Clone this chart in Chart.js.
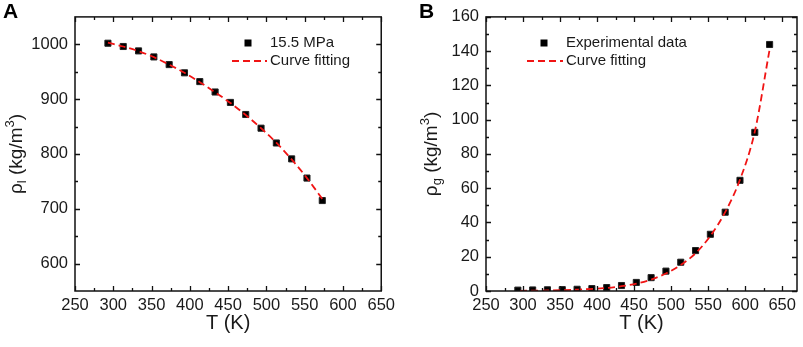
<!DOCTYPE html>
<html>
<head>
<meta charset="utf-8">
<script src="https://cdn.jsdelivr.net/npm/chart.js@4.4.0/dist/chart.umd.min.js"></script>
<style>
html, body { margin: 0; padding: 0; background: #fff; }
#wrap { position: relative; width: 803px; height: 347px; }
.panel { position: absolute; top: 0; }
.tag { position: absolute; top: 0; font: bold 21px "Liberation Sans", Arial, sans-serif; line-height: 21px; color: #000; }
</style>
</head>
<body>
<div id="wrap">
    <canvas id="chartA" class="panel" style="left:0" width="400" height="347"></canvas>
    <canvas id="chartB" class="panel" style="left:400px" width="403" height="347"></canvas>
    <div class="tag" style="left:3px">A</div>
    <div class="tag" style="left:419px">B</div>
</div>
<script>
// panel A: liquid density at 15.5 MPa
var tempA = [293, 313, 333, 353, 373, 393, 413, 433, 453, 473, 493, 513, 533, 553, 573];
var rhoLiquid = [1002, 996, 988, 977, 963, 948, 932, 913, 894, 872, 847, 820, 791, 756, 715];
var fitTempA = [293, 313, 333, 353, 373, 393, 413, 433, 453, 473, 493, 513, 533, 553, 573];
var fitRhoLiquid = [1003, 996, 987.5, 976.5, 963, 948, 931, 912.5, 893, 871, 847, 820.5, 790, 756, 718];

// panel B: vapour density
var tempB = [293, 313, 333, 353, 373, 393, 413, 433, 453, 473, 493, 513, 533, 553, 573, 593, 613, 633];
var rhoGas = [0.5, 0.6, 0.7, 0.8, 1.0, 1.4, 2.0, 3.2, 5.0, 7.8, 11.6, 16.8, 23.6, 33.1, 46.0, 64.6, 92.6, 143.9];
var fitTempB = [296, 333, 373, 413, 433, 453, 473, 493, 513, 533, 553, 573, 593, 613, 633];
var fitRhoGas = [0.1, 0.3, 0.8, 1.8, 2.8, 4.3, 6.7, 10.2, 15.2, 22, 32.2, 46, 65, 93, 141];

var tempTicks = [250, 300, 350, 400, 450, 500, 550, 600, 650];
var rhoLiquidTicks = [600, 700, 800, 900, 1000];
var rhoGasTicks = [0, 20, 40, 60, 80, 100, 120, 140, 160];

var FONT = '"Liberation Sans", Arial, sans-serif';
var INK = '#1a1a1a';
var RED = '#f01414';

function toXY(xs, ys) {
    return xs.map(function (x, i) { return {x: x, y: ys[i]}; });
}

// frame with inward major/minor ticks on all four sides
function frameTicks(xMinor, yMinor) {
    return {
        id: 'frameTicks',
        afterDraw: function (chart) {
            var ctx = chart.ctx, a = chart.chartArea;
            var sx = chart.scales.x, sy = chart.scales.y;
            ctx.save();
            ctx.strokeStyle = '#111';
            ctx.lineWidth = 1.3;
            ctx.beginPath();
            function tickX(v, len) {
                var p = Math.round(sx.getPixelForValue(v)) + 0.5;
                ctx.moveTo(p, a.bottom); ctx.lineTo(p, a.bottom - len);
                ctx.moveTo(p, a.top); ctx.lineTo(p, a.top + len);
            }
            function tickY(v, len) {
                var p = Math.round(sy.getPixelForValue(v)) + 0.5;
                ctx.moveTo(a.left, p); ctx.lineTo(a.left + len, p);
                ctx.moveTo(a.right, p); ctx.lineTo(a.right - len, p);
            }
            sx.ticks.forEach(function (t) { tickX(t.value, 5); });
            sy.ticks.forEach(function (t) { tickY(t.value, 5); });
            var v;
            for (v = sx.min + xMinor; v < sx.max; v += xMinor) {
                if (v % (2 * xMinor) !== 0) tickX(v, 3);
            }
            for (v = sy.min + yMinor; v < sy.max; v += yMinor) {
                if (v % (2 * yMinor) !== 0) tickY(v, 3);
            }
            ctx.stroke();
            ctx.lineWidth = 1.5;
            ctx.strokeRect(a.left, a.top, a.right - a.left, a.bottom - a.top);
            ctx.restore();
        }
    };
}

// axis titles, y title carries a subscript and a superscript
function axisTitles(sub, yTitleX) {
    return {
        id: 'axisTitles',
        afterDraw: function (chart) {
            var ctx = chart.ctx, a = chart.chartArea;
            ctx.save();
            ctx.fillStyle = INK;
            ctx.textBaseline = 'middle';
            ctx.textAlign = 'center';
            ctx.font = '20px ' + FONT;
            ctx.fillText('T (K)', (a.left + a.right) / 2, 323);

            var parts = [
                {t: '\u03c1', size: 19, dy: 0},
                {t: sub, size: 13, dy: 5},
                {t: ' (kg/m', size: 19, dy: 0},
                {t: '3', size: 13, dy: -7},
                {t: ')', size: 19, dy: 0}
            ];
            var total = 0;
            parts.forEach(function (p) {
                ctx.font = p.size + 'px ' + FONT;
                p.w = ctx.measureText(p.t).width;
                total += p.w;
            });
            ctx.translate(yTitleX, (a.top + a.bottom) / 2);
            ctx.rotate(-Math.PI / 2);
            ctx.textAlign = 'left';
            var x = -total / 2;
            parts.forEach(function (p) {
                ctx.font = p.size + 'px ' + FONT;
                ctx.fillText(p.t, x, p.dy);
                x += p.w;
            });
            ctx.restore();
        }
    };
}

// legend drawn inside the plot, taken from dataset labels and styles
function innerLegend(pos) {
    return {
        id: 'innerLegend',
        afterDraw: function (chart) {
            var ctx = chart.ctx;
            var pts = chart.data.datasets[1], fit = chart.data.datasets[0];
            ctx.save();
            ctx.fillStyle = '#000';
            ctx.fillRect(pos.markX - 3.5, pos.y1 - 3.5, 7, 7);
            ctx.strokeStyle = RED;
            ctx.lineWidth = 1.8;
            ctx.setLineDash(fit.borderDash);
            ctx.beginPath();
            ctx.moveTo(pos.lineX1, pos.y2);
            ctx.lineTo(pos.lineX2, pos.y2);
            ctx.stroke();
            ctx.setLineDash([]);
            ctx.fillStyle = INK;
            ctx.font = '15px ' + FONT;
            ctx.textBaseline = 'middle';
            ctx.fillText(pts.label, pos.textX, pos.y1);
            ctx.fillText(fit.label, pos.textX, pos.y2);
            ctx.restore();
        }
    };
}

function plainNumber(v) {
    return String(v);
}

function buildChart(id, cfg) {
    var ctx = document.getElementById(id).getContext('2d');
    return new Chart(ctx, {
        type: 'scatter',
        data: {
            datasets: [{
                label: 'Curve fitting',
                data: toXY(cfg.fitX, cfg.fitY),
                showLine: true,
                pointRadius: 0,
                borderColor: RED,
                borderWidth: 1.8,
                borderDash: [7, 4],
                cubicInterpolationMode: 'monotone',
                order: 0
            }, {
                label: cfg.pointLabel,
                data: toXY(cfg.ptX, cfg.ptY),
                pointStyle: 'rect',
                pointRadius: 4.3,
                backgroundColor: '#000',
                borderColor: '#222',
                borderWidth: 1,
                clip: cfg.clip,
                order: 1
            }]
        },
        options: {
            responsive: false,
            animation: false,
            events: [],
            layout: {padding: {top: 9, right: cfg.padRight, left: 0, bottom: 0}},
            plugins: {legend: {display: false}, tooltip: {enabled: false}},
            scales: {
                x: {
                    type: 'linear',
                    min: 250,
                    max: cfg.xMax,
                    afterBuildTicks: function (s) { s.ticks = tempTicks.map(function (v) { return {value: v}; }); },
                    afterFit: function (s) { s.height = 56; },
                    grid: {display: false, drawTicks: false},
                    border: {display: false},
                    ticks: {color: INK, font: {family: FONT, size: 16.5}, padding: 5, maxRotation: 0, autoSkip: false, callback: plainNumber}
                },
                y: {
                    type: 'linear',
                    min: cfg.yMin,
                    max: cfg.yMax,
                    afterBuildTicks: function (s) { s.ticks = cfg.yTicks.map(function (v) { return {value: v}; }); },
                    afterFit: function (s) { s.width = cfg.yWidth; },
                    grid: {display: false, drawTicks: false},
                    border: {display: false},
                    ticks: {color: INK, font: {family: FONT, size: 16.5}, padding: 7, autoSkip: false, callback: plainNumber}
                }
            }
        },
        plugins: [frameTicks(25, cfg.yMinor), axisTitles(cfg.sub, cfg.yTitleX), innerLegend(cfg.legend)]
    });
}

buildChart('chartA', {
    ptX: tempA, ptY: rhoLiquid, fitX: fitTempA, fitY: fitRhoLiquid,
    pointLabel: '15.5 MPa', sub: 'l',
    xMax: 650, yMin: 550, yMax: 1050, yTicks: rhoLiquidTicks, yMinor: 50,
    yWidth: 75, padRight: 11, yTitleX: 17, clip: false,
    legend: {markX: 248, textX: 270, lineX1: 232, lineX2: 267, y1: 43, y2: 61}
});

buildChart('chartB', {
    ptX: tempB, ptY: rhoGas, fitX: fitTempB, fitY: fitRhoGas,
    pointLabel: 'Experimental data', sub: 'g',
    xMax: 670, yMin: 0, yMax: 160, yTicks: rhoGasTicks, yMinor: 10,
    yWidth: 86, padRight: 6, yTitleX: 32, clip: 0,
    legend: {markX: 144, textX: 166, lineX1: 127, lineX2: 163, y1: 43, y2: 61}
});
</script>
</body>
</html>
